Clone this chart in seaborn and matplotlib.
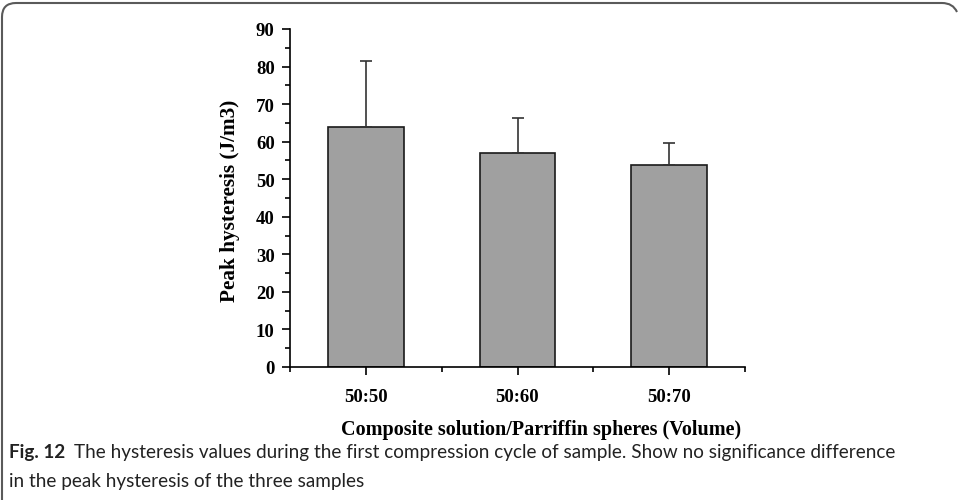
import matplotlib
matplotlib.use("Agg")
import matplotlib.pyplot as plt
import seaborn as sns
import numpy as np
import pandas as pd
from matplotlib.path import Path
from matplotlib.patches import PathPatch

categories = ["50:50", "50:60", "50:70"]
means = [63.8, 56.9, 53.8]
sd_upper = [17.6, 9.4, 5.8]
y_ticks = [0, 10, 20, 30, 40, 50, 60, 70, 80, 90]

x_title = "Composite solution/Parriffin spheres (Volume)"
y_title = "Peak hysteresis (J/m3)"
cap_bold = "Fig. 12"
cap_line1 = "The hysteresis values during the first compression cycle of sample. Show no significance difference"
cap_line2 = "in the peak hysteresis of the three samples"

sns.set_theme(style="white")
plt.rcParams['font.family'] = ['Liberation Serif', 'DejaVu Serif']

W, H = 959, 502
fig = plt.figure(figsize=(W / 100, H / 100), dpi=100)
ax = fig.add_axes([290 / W, 1 - 368 / H, (745 - 290) / W, (368 - 30) / H])

df = pd.DataFrame({"cat": categories, "val": means})
sns.barplot(data=df, x="cat", y="val", color="#a0a0a0", saturation=1,
            width=0.5, edgecolor="#1a1a1a", linewidth=1.2, errorbar=None, ax=ax)
ax.errorbar(np.arange(len(categories)), means,
            yerr=[np.zeros(len(means)), sd_upper], fmt="none",
            ecolor="#333333", elinewidth=1.2, capsize=4, capthick=1.2, zorder=1)

ax.set_xlim(-0.5, 2.5)
ax.set_ylim(0, 90)
ax.set_yticks(y_ticks)
ax.set_yticks(np.arange(5, 90, 10), minor=True)
ax.set_xticks([0, 1, 2])
ax.set_xticks([-0.5, 0.5, 1.5, 2.5], minor=True)
ax.set_xticklabels(categories)
ax.set_xlabel("")
ax.set_ylabel("")
for s in ["top", "right"]:
    ax.spines[s].set_visible(False)
for s in ["left", "bottom"]:
    ax.spines[s].set_color("black")
    ax.spines[s].set_linewidth(1.2)
ax.tick_params(axis="both", which="major", direction="out", length=6, width=1.2,
               color="black", labelsize=13.5, left=True, bottom=True)
ax.tick_params(axis="both", which="minor", direction="out", length=3.5, width=1.2,
               color="black", left=True, bottom=True)
ax.tick_params(axis="x", which="major", pad=9)
ax.tick_params(axis="y", which="major", pad=5)
for lab in ax.get_xticklabels() + ax.get_yticklabels():
    lab.set_fontweight("bold")
    lab.set_color("black")

renderer = fig.canvas.get_renderer()

def fit(txt, target, horizontal=True):
    fs = txt.get_fontsize()
    for _ in range(3):
        bb = txt.get_window_extent(renderer)
        cur = bb.width if horizontal else bb.height
        fs = fs * target / cur
        txt.set_fontsize(fs)
    return fs

# axis titles
xt = fig.text(541 / W, 1 - 430 / H, x_title, fontweight="bold", fontsize=14,
              ha="center", va="center", color="black")
fit(xt, 398)
yt = fig.text(230 / W, 1 - 201 / H, y_title, fontweight="bold", fontsize=15,
              rotation=90, ha="center", va="center", color="black")
fit(yt, 202, horizontal=False)

# frame: left + top border with rounded corner
r = 14
pts = [(2, 1), (2, H - 4 - r), (2, H - 4), (2 + r, H - 4), (942, H - 4),
       (953, H - 4), (957, H - 13)]
codes = [Path.MOVETO, Path.LINETO, Path.CURVE3, Path.CURVE3, Path.LINETO,
         Path.CURVE3, Path.CURVE3]
path = Path([(x / W, y / H) for x, y in pts], codes)
fig.patches.append(PathPatch(path, transform=fig.transFigure, fill=False,
                             edgecolor="#5a5a5a", linewidth=1.5))

cap_font = ['Lato', 'DejaVu Sans']
c2 = fig.text(9 / W, 1 - 482 / H, cap_line1, fontsize=13, family=cap_font,
              va="center", ha="left", color="#222222")
fs = fit(c2, 897 - 80)
c2.set_text(cap_line2)
c0 = fig.text(9 / W, 1 - 453 / H, cap_bold, fontsize=fs, fontweight="bold",
              family=cap_font, va="center", ha="left", color="#222222")
b0 = c0.get_window_extent(renderer)
fig.text((b0.x1 + 9) / W, 1 - 453 / H, cap_line1, fontsize=fs, family=cap_font,
         va="center", ha="left", color="#222222")

fig.savefig("out.png", dpi=100, facecolor="white")
